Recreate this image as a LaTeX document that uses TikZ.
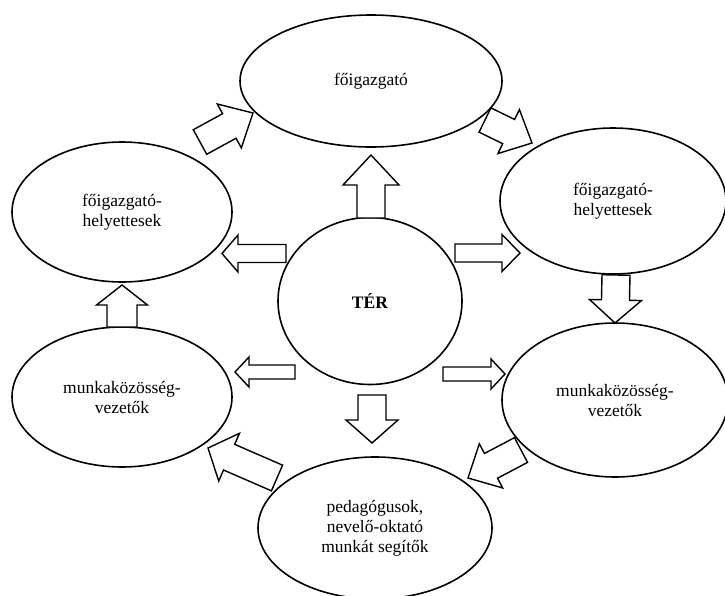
\documentclass[tikz,border=0pt]{standalone}
\usepackage{fontspec}
\setmainfont{Liberation Serif}
\usetikzlibrary{shapes.geometric, calc}

% hollow block arrow: #1 body half width, #2 head half width, #3 head length, #4 tail, #5 tip
\newcommand{\blockarr}[5]{%
  \coordinate (hb) at ($(#5)!#3pt!(#4)$);
  \draw[blockarrow] ($(#4)!#1pt!90:(#5)$) -- ($(hb)!#1pt!-90:(#4)$) -- ($(hb)!#2pt!-90:(#4)$)
    -- (#5) -- ($(hb)!#2pt!90:(#4)$) -- ($(hb)!#1pt!90:(#4)$) -- ($(#4)!#1pt!-90:(#5)$) -- cycle;}

\begin{document}
\begin{tikzpicture}[x=1pt, y=-1pt,
    oval/.style={ellipse, draw, line width=1.6pt, inner sep=0pt, align=center,
        font=\fontsize{17.5}{20}\selectfont},
    blockarrow/.style={draw, fill=white, line width=1.4pt, line join=miter}]
    \useasboundingbox (0,0) rectangle (725,595);

    % Draw the ovals
    \node[oval, minimum width=262pt, minimum height=132pt] (fo) at (371,81) {főigazgató};
    \node[oval, minimum width=184pt, minimum height=167pt] (ter) at (370,301) {\textbf{TÉR}};
    \node[oval, minimum width=220pt, minimum height=140pt] (lu) at (122,212) {főigazgató-\\helyettesek};
    \node[oval, minimum width=226pt, minimum height=146pt] (ru) at (613,201) {főigazgató-\\helyettesek};
    \node[oval, minimum width=220pt, minimum height=140pt] (ld) at (122,397) {munkaközösség-\\vezetők};
    \node[oval, minimum width=226pt, minimum height=154pt] (rd) at (615,400) {munkaközösség-\\vezetők};
    \node[oval, minimum width=234pt, minimum height=142pt] (bot) at (375,528) {pedagógusok,\\nevelő-oktató\\munkát segítők};

    % Arrow ends
    \coordinate (terup) at (371,218);   \coordinate (foin) at (371,155);
    \coordinate (luout) at (200,142);   \coordinate (foinl) at (253,113);
    \coordinate (foout) at (485,120);   \coordinate (ruin) at (532,143);
    \coordinate (terl) at (286,253.5);  \coordinate (luin) at (222,253.5);
    \coordinate (terr) at (455,253);    \coordinate (ruinl) at (520,253);
    \coordinate (ruout) at (616,275);   \coordinate (rdin) at (615,323);
    \coordinate (ldout) at (122,327);   \coordinate (luinb) at (122,285);
    \coordinate (terll) at (295,372);   \coordinate (ldin) at (235,372);
    \coordinate (terrl) at (443,374);   \coordinate (rdinl) at (505,374);
    \coordinate (terdn) at (372,395);   \coordinate (botin) at (372,443);
    \coordinate (rdout) at (521,450);   \coordinate (botinr) at (468,478);
    \coordinate (botout) at (277,478);  \coordinate (ldinb) at (208,448);

    % Draw the block arrows
    \blockarr{14}{28}{30}{terup}{foin}
    \blockarr{14}{25}{27}{luout}{foinl}
    \blockarr{13.5}{24.5}{26}{foout}{ruin}
    \blockarr{9}{18.5}{16}{terl}{luin}
    \blockarr{9}{18.5}{18}{terr}{ruinl}
    \blockarr{14}{26}{23}{ruout}{rdin}
    \blockarr{15}{25.5}{20}{ldout}{luinb}
    \blockarr{7}{15}{14}{terll}{ldin}
    \blockarr{7}{15}{14}{terrl}{rdinl}
    \blockarr{14}{26}{23}{terdn}{botin}
    \blockarr{14}{25}{26}{rdout}{botinr}
    \blockarr{14}{26}{23}{botout}{ldinb}
\end{tikzpicture}
\end{document}
